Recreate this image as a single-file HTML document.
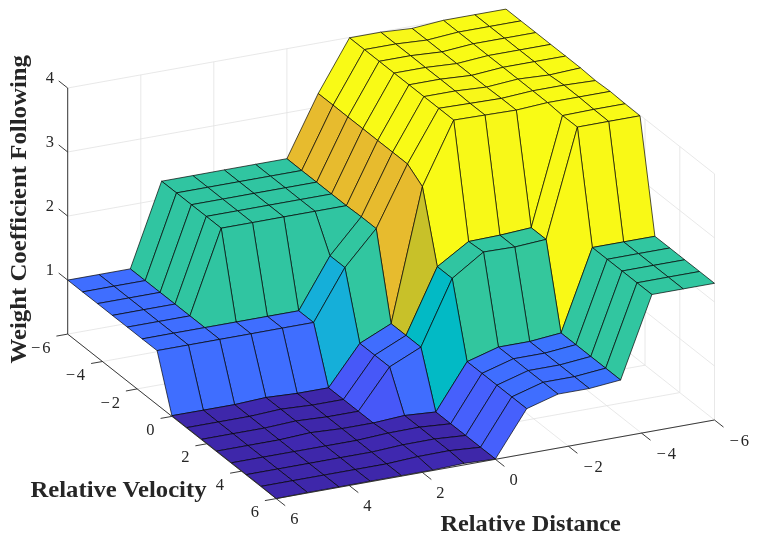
<!DOCTYPE html>
<html><head><meta charset="utf-8"><title>Surface</title>
<style>html,body{margin:0;padding:0;background:#fff}svg{display:block}</style></head>
<body>
<svg width="757" height="541" viewBox="0 0 757 541">
<rect width="757" height="541" fill="#fff"/>
<g stroke="#e2e2e2" stroke-width="0.8" fill="none">
<path d="M506.0,255.5 L714.5,420.0"/>
<path d="M506.0,255.5 L67.7,334.1"/>
<path d="M506.0,255.5 L506.0,9.4"/>
<path d="M506.0,255.5 L506.0,9.4"/>
<path d="M432.9,268.6 L641.5,433.1"/>
<path d="M540.8,282.9 L102.5,361.5"/>
<path d="M432.9,268.6 L432.9,22.5"/>
<path d="M540.8,282.9 L540.8,36.8"/>
<path d="M359.9,281.7 L568.4,446.2"/>
<path d="M575.5,310.3 L137.2,388.9"/>
<path d="M359.9,281.7 L359.9,35.6"/>
<path d="M575.5,310.3 L575.5,64.2"/>
<path d="M286.9,294.8 L495.4,459.3"/>
<path d="M610.2,337.8 L171.9,416.4"/>
<path d="M286.9,294.8 L286.9,48.7"/>
<path d="M610.2,337.8 L610.2,91.7"/>
<path d="M213.8,307.9 L422.3,472.4"/>
<path d="M645.0,365.2 L206.7,443.8"/>
<path d="M213.8,307.9 L213.8,61.8"/>
<path d="M645.0,365.2 L645.0,119.1"/>
<path d="M140.8,321.0 L349.2,485.5"/>
<path d="M679.8,392.6 L241.4,471.2"/>
<path d="M140.8,321.0 L140.8,74.9"/>
<path d="M679.8,392.6 L679.8,146.5"/>
<path d="M67.7,334.1 L276.2,498.6"/>
<path d="M714.5,420.0 L276.2,498.6"/>
<path d="M67.7,334.1 L67.7,88.0"/>
<path d="M714.5,420.0 L714.5,173.9"/>
<path d="M67.7,280.1 L506.0,201.5"/>
<path d="M506.0,201.5 L714.5,366.0"/>
<path d="M67.7,216.1 L506.0,137.5"/>
<path d="M506.0,137.5 L714.5,302.0"/>
<path d="M67.7,152.0 L506.0,73.4"/>
<path d="M506.0,73.4 L714.5,237.9"/>
<path d="M67.7,88.0 L506.0,9.4"/>
<path d="M506.0,9.4 L714.5,173.9"/>
</g>
<g stroke="#000" stroke-width="0.68" stroke-linejoin="round">
<polygon points="474.7,14.7 506.0,9.1 520.9,20.9 489.6,26.5" fill="#f9fb15"/>
<polygon points="489.6,26.5 520.9,20.9 535.8,32.6 504.5,38.2" fill="#f9fb15"/>
<polygon points="504.5,38.2 535.8,32.6 550.7,44.4 519.4,50.0" fill="#f9fb15"/>
<polygon points="519.4,50.0 550.7,44.4 565.6,56.1 534.3,61.7" fill="#f9fb15"/>
<polygon points="534.3,61.7 565.6,56.1 580.5,67.9 549.2,75.0" fill="#f9fb15"/>
<polygon points="549.2,75.0 580.5,67.9 595.4,80.6 564.0,85.2" fill="#f9fb15"/>
<polygon points="564.0,85.2 595.4,80.6 610.2,91.4 578.9,97.0" fill="#f9f916"/>
<polygon points="578.9,97.0 610.2,91.4 625.1,103.8 593.8,109.4" fill="#f9fb15"/>
<polygon points="593.8,109.4 625.1,103.8 640.0,115.8 608.7,121.4" fill="#f9fa16"/>
<polygon points="608.7,121.4 640.0,115.8 654.9,236.3 623.6,241.9" fill="#f9f916"/>
<polygon points="623.6,241.9 654.9,236.3 669.8,248.0 638.5,253.6" fill="#31c6a0"/>
<polygon points="638.5,253.6 669.8,248.0 684.7,259.8 653.4,265.4" fill="#31c6a0"/>
<polygon points="653.4,265.4 684.7,259.8 699.6,271.5 668.3,277.1" fill="#31c6a0"/>
<polygon points="668.3,277.1 699.6,271.5 714.5,283.3 683.2,288.9" fill="#31c6a0"/>
<polygon points="443.4,20.3 474.7,14.7 489.6,26.5 458.3,32.1" fill="#f9fb15"/>
<polygon points="458.3,32.1 489.6,26.5 504.5,38.2 473.2,43.8" fill="#f9fb15"/>
<polygon points="473.2,43.8 504.5,38.2 519.4,50.0 488.1,55.6" fill="#f9fb15"/>
<polygon points="488.1,55.6 519.4,50.0 534.3,61.7 503.0,67.3" fill="#f9fb15"/>
<polygon points="503.0,67.3 534.3,61.7 549.2,75.0 517.9,79.1" fill="#f9fb15"/>
<polygon points="517.9,79.1 549.2,75.0 564.0,85.2 532.7,90.8" fill="#f8f917"/>
<polygon points="532.7,90.8 564.0,85.2 578.9,97.0 547.6,102.6" fill="#f9fb15"/>
<polygon points="547.6,102.6 578.9,97.0 593.8,109.4 562.5,115.6" fill="#f9fb15"/>
<polygon points="562.5,115.6 593.8,109.4 608.7,121.4 577.4,127.1" fill="#f9fa16"/>
<polygon points="577.4,127.1 608.7,121.4 623.6,241.9 592.3,247.5" fill="#f9f916"/>
<polygon points="592.3,247.5 623.6,241.9 638.5,253.6 607.2,259.3" fill="#31c6a0"/>
<polygon points="607.2,259.3 638.5,253.6 653.4,265.4 622.1,271.0" fill="#31c6a0"/>
<polygon points="622.1,271.0 653.4,265.4 668.3,277.1 637.0,282.8" fill="#31c6a0"/>
<polygon points="637.0,282.8 668.3,277.1 683.2,288.9 651.9,294.5" fill="#31c6a0"/>
<polygon points="412.1,28.4 443.4,20.3 458.3,32.1 427.0,40.1" fill="#f9fb15"/>
<polygon points="427.0,40.1 458.3,32.1 473.2,43.8 441.9,51.9" fill="#f9fb15"/>
<polygon points="441.9,51.9 473.2,43.8 488.1,55.6 456.8,63.6" fill="#f9fb15"/>
<polygon points="456.8,63.6 488.1,55.6 503.0,67.3 471.6,75.4" fill="#f9fb15"/>
<polygon points="471.6,75.4 503.0,67.3 517.9,79.1 486.5,87.1" fill="#f9fb15"/>
<polygon points="486.5,87.1 517.9,79.1 532.7,90.8 501.4,98.4" fill="#f9fb15"/>
<polygon points="501.4,98.4 532.7,90.8 547.6,102.6 516.3,110.1" fill="#f9fb15"/>
<polygon points="516.3,110.1 547.6,102.6 562.5,115.6 531.2,227.7" fill="#f9fb15"/>
<polygon points="531.2,227.7 562.5,115.6 577.4,127.1 546.1,239.4" fill="#f8f917"/>
<polygon points="546.1,239.4 577.4,127.1 592.3,247.5 561.0,333.0" fill="#f9f916"/>
<polygon points="561.0,333.0 592.3,247.5 607.2,259.3 575.9,344.7" fill="#31c6a0"/>
<polygon points="575.9,344.7 607.2,259.3 622.1,271.0 590.8,356.5" fill="#31c6a0"/>
<polygon points="590.8,356.5 622.1,271.0 637.0,282.8 605.7,368.2" fill="#31c6a0"/>
<polygon points="605.7,368.2 637.0,282.8 651.9,294.5 620.6,380.0" fill="#31c6a0"/>
<polygon points="380.8,32.2 412.1,28.4 427.0,40.1 395.7,44.0" fill="#f8f719"/>
<polygon points="395.7,44.0 427.0,40.1 441.9,51.9 410.6,55.7" fill="#f8f719"/>
<polygon points="410.6,55.7 441.9,51.9 456.8,63.6 425.4,67.5" fill="#f8f719"/>
<polygon points="425.4,67.5 456.8,63.6 471.6,75.4 440.3,79.2" fill="#f8f719"/>
<polygon points="440.3,79.2 471.6,75.4 486.5,87.1 455.2,91.0" fill="#f8f719"/>
<polygon points="455.2,91.0 486.5,87.1 501.4,98.4 470.1,103.4" fill="#f8f719"/>
<polygon points="470.1,103.4 501.4,98.4 516.3,110.1 485.0,115.1" fill="#f8f818"/>
<polygon points="485.0,115.1 516.3,110.1 531.2,227.7 499.9,235.2" fill="#f8f818"/>
<polygon points="499.9,235.2 531.2,227.7 546.1,239.4 514.8,247.0" fill="#34c79c"/>
<polygon points="514.8,247.0 546.1,239.4 561.0,333.0 529.7,341.5" fill="#34c79c"/>
<polygon points="529.7,341.5 561.0,333.0 575.9,344.7 544.6,353.2" fill="#3b73fe"/>
<polygon points="544.6,353.2 575.9,344.7 590.8,356.5 559.5,365.0" fill="#3b73fe"/>
<polygon points="559.5,365.0 590.8,356.5 605.7,368.2 574.4,376.7" fill="#3b73fe"/>
<polygon points="574.4,376.7 605.7,368.2 620.6,380.0 589.3,388.5" fill="#3b73fe"/>
<polygon points="349.5,37.8 380.8,32.2 395.7,44.0 364.4,49.6" fill="#f9fa16"/>
<polygon points="364.4,49.6 395.7,44.0 410.6,55.7 379.2,61.3" fill="#f9fa16"/>
<polygon points="379.2,61.3 410.6,55.7 425.4,67.5 394.1,73.1" fill="#f9fa16"/>
<polygon points="394.1,73.1 425.4,67.5 440.3,79.2 409.0,84.8" fill="#f9fa16"/>
<polygon points="409.0,84.8 440.3,79.2 455.2,91.0 423.9,96.6" fill="#f9fa16"/>
<polygon points="423.9,96.6 455.2,91.0 470.1,103.4 438.8,108.3" fill="#f9fa16"/>
<polygon points="438.8,108.3 470.1,103.4 485.0,115.1 453.7,120.1" fill="#f8f917"/>
<polygon points="453.7,120.1 485.0,115.1 499.9,235.2 468.6,241.5" fill="#f8f917"/>
<polygon points="468.6,241.5 499.9,235.2 514.8,247.0 483.5,252.0" fill="#31c6a0"/>
<polygon points="483.5,252.0 514.8,247.0 529.7,341.5 498.4,347.1" fill="#31c6a0"/>
<polygon points="498.4,347.1 529.7,341.5 544.6,353.2 513.3,358.8" fill="#3f6eff"/>
<polygon points="513.3,358.8 544.6,353.2 559.5,365.0 528.2,370.6" fill="#3f6eff"/>
<polygon points="528.2,370.6 559.5,365.0 574.4,376.7 543.1,382.3" fill="#3f6eff"/>
<polygon points="543.1,382.3 574.4,376.7 589.3,388.5 558.0,394.1" fill="#3f6eff"/>
<polygon points="318.2,93.5 349.5,37.8 364.4,49.6 333.1,105.2" fill="#f9fa16"/>
<polygon points="333.1,105.2 364.4,49.6 379.2,61.3 347.9,117.0" fill="#f9fa16"/>
<polygon points="347.9,117.0 379.2,61.3 394.1,73.1 362.8,128.7" fill="#f9fa16"/>
<polygon points="362.8,128.7 394.1,73.1 409.0,84.8 377.7,140.5" fill="#f9fa16"/>
<polygon points="377.7,140.5 409.0,84.8 423.9,96.6 392.6,152.2" fill="#f9fa16"/>
<polygon points="392.6,152.2 423.9,96.6 438.8,108.3 407.5,164.0" fill="#f9fa16"/>
<polygon points="407.5,164.0 438.8,108.3 453.7,120.1 422.4,186.6" fill="#f9fa16"/>
<polygon points="422.4,186.6 453.7,120.1 468.6,241.5 437.3,266.7" fill="#f9fa16"/>
<polygon points="437.3,266.7 468.6,241.5 483.5,252.0 452.2,278.4" fill="#30c5a1"/>
<polygon points="452.2,278.4 483.5,252.0 498.4,347.1 467.1,361.7" fill="#32c69e"/>
<polygon points="467.1,361.7 498.4,347.1 513.3,358.8 482.0,373.4" fill="#3f6eff"/>
<polygon points="482.0,373.4 513.3,358.8 528.2,370.6 496.9,385.2" fill="#3f6eff"/>
<polygon points="496.9,385.2 528.2,370.6 543.1,382.3 511.8,396.9" fill="#3f6eff"/>
<polygon points="511.8,396.9 543.1,382.3 558.0,394.1 526.7,408.7" fill="#3f6eff"/>
<polygon points="286.9,158.7 318.2,93.5 333.1,105.2 301.7,170.5" fill="#e7bb2e"/>
<polygon points="301.7,170.5 333.1,105.2 347.9,117.0 316.6,182.2" fill="#e7bb2e"/>
<polygon points="316.6,182.2 347.9,117.0 362.8,128.7 331.5,194.0" fill="#e7bb2e"/>
<polygon points="331.5,194.0 362.8,128.7 377.7,140.5 346.4,205.7" fill="#e7bb2e"/>
<polygon points="346.4,205.7 377.7,140.5 392.6,152.2 361.3,216.8" fill="#e7bb2e"/>
<polygon points="361.3,216.8 392.6,152.2 407.5,164.0 376.2,228.6" fill="#e7bb2e"/>
<polygon points="376.2,228.6 407.5,164.0 422.4,186.6 391.1,323.7" fill="#e7bb2e"/>
<polygon points="391.1,323.7 422.4,186.6 437.3,266.7 406.0,335.4" fill="#c8c129"/>
<polygon points="406.0,335.4 437.3,266.7 452.2,278.4 420.9,347.2" fill="#02bac5"/>
<polygon points="420.9,347.2 452.2,278.4 467.1,361.7 435.8,412.0" fill="#02bac5"/>
<polygon points="435.8,412.0 467.1,361.7 482.0,373.4 450.7,423.8" fill="#4660fc"/>
<polygon points="450.7,423.8 482.0,373.4 496.9,385.2 465.6,435.5" fill="#4660fc"/>
<polygon points="465.6,435.5 496.9,385.2 511.8,396.9 480.5,447.3" fill="#4660fc"/>
<polygon points="480.5,447.3 511.8,396.9 526.7,408.7 495.4,459.0" fill="#4660fc"/>
<polygon points="255.5,164.3 286.9,158.7 301.7,170.5 270.4,176.1" fill="#30c5a1"/>
<polygon points="270.4,176.1 301.7,170.5 316.6,182.2 285.3,187.8" fill="#30c5a1"/>
<polygon points="285.3,187.8 316.6,182.2 331.5,194.0 300.2,199.6" fill="#30c5a1"/>
<polygon points="300.2,199.6 331.5,194.0 346.4,205.7 315.1,211.3" fill="#30c5a1"/>
<polygon points="315.1,211.3 346.4,205.7 361.3,216.8 330.0,255.8" fill="#30c5a1"/>
<polygon points="330.0,255.8 361.3,216.8 376.2,228.6 344.9,267.5" fill="#31c6a0"/>
<polygon points="344.9,267.5 376.2,228.6 391.1,323.7 359.8,343.4" fill="#31c6a0"/>
<polygon points="359.8,343.4 391.1,323.7 406.0,335.4 374.7,355.2" fill="#406dfe"/>
<polygon points="374.7,355.2 406.0,335.4 420.9,347.2 389.6,366.9" fill="#406dfe"/>
<polygon points="389.6,366.9 420.9,347.2 435.8,412.0 404.5,415.5" fill="#406dfe"/>
<polygon points="404.5,415.5 435.8,412.0 450.7,423.8 419.4,427.2" fill="#3e27a9"/>
<polygon points="419.4,427.2 450.7,423.8 465.6,435.5 434.3,439.0" fill="#3e27a9"/>
<polygon points="434.3,439.0 465.6,435.5 480.5,447.3 449.1,450.7" fill="#3e27a9"/>
<polygon points="449.1,450.7 480.5,447.3 495.4,459.0 464.0,463.4" fill="#3e27a9"/>
<polygon points="224.2,169.9 255.5,164.3 270.4,176.1 239.1,181.7" fill="#30c5a1"/>
<polygon points="239.1,181.7 270.4,176.1 285.3,187.8 254.0,193.4" fill="#30c5a1"/>
<polygon points="254.0,193.4 285.3,187.8 300.2,199.6 268.9,205.2" fill="#30c5a1"/>
<polygon points="268.9,205.2 300.2,199.6 315.1,211.3 283.8,216.9" fill="#30c5a1"/>
<polygon points="283.8,216.9 315.1,211.3 330.0,255.8 298.7,310.8" fill="#30c5a1"/>
<polygon points="298.7,310.8 330.0,255.8 344.9,267.5 313.6,322.5" fill="#15afd9"/>
<polygon points="313.6,322.5 344.9,267.5 359.8,343.4 328.5,387.8" fill="#15afd9"/>
<polygon points="328.5,387.8 359.8,343.4 374.7,355.2 343.4,399.5" fill="#4758f8"/>
<polygon points="343.4,399.5 374.7,355.2 389.6,366.9 358.3,411.3" fill="#4758f8"/>
<polygon points="358.3,411.3 389.6,366.9 404.5,415.5 373.2,423.0" fill="#4758f8"/>
<polygon points="373.2,423.0 404.5,415.5 419.4,427.2 388.1,433.1" fill="#3f29b0"/>
<polygon points="388.1,433.1 419.4,427.2 434.3,439.0 402.9,444.8" fill="#3f29b0"/>
<polygon points="402.9,444.8 434.3,439.0 449.1,450.7 417.8,456.6" fill="#3f29b0"/>
<polygon points="417.8,456.6 449.1,450.7 464.0,463.4 432.7,470.0" fill="#3f29b0"/>
<polygon points="192.9,175.6 224.2,169.9 239.1,181.7 207.8,187.3" fill="#30c5a1"/>
<polygon points="207.8,187.3 239.1,181.7 254.0,193.4 222.7,199.1" fill="#30c5a1"/>
<polygon points="222.7,199.1 254.0,193.4 268.9,205.2 237.6,210.8" fill="#30c5a1"/>
<polygon points="237.6,210.8 268.9,205.2 283.8,216.9 252.5,222.6" fill="#30c5a1"/>
<polygon points="252.5,222.6 283.8,216.9 298.7,310.8 267.4,316.4" fill="#30c5a1"/>
<polygon points="267.4,316.4 298.7,310.8 313.6,322.5 282.3,328.1" fill="#3f6eff"/>
<polygon points="282.3,328.1 313.6,322.5 328.5,387.8 297.2,393.4" fill="#3f6eff"/>
<polygon points="297.2,393.4 328.5,387.8 343.4,399.5 312.1,405.1" fill="#3e27aa"/>
<polygon points="312.1,405.1 343.4,399.5 358.3,411.3 327.0,416.9" fill="#3e27aa"/>
<polygon points="327.0,416.9 358.3,411.3 373.2,423.0 341.9,428.6" fill="#3e27aa"/>
<polygon points="341.9,428.6 373.2,423.0 388.1,433.1 356.8,440.4" fill="#3e27aa"/>
<polygon points="356.8,440.4 388.1,433.1 402.9,444.8 371.6,452.1" fill="#3f28af"/>
<polygon points="371.6,452.1 402.9,444.8 417.8,456.6 386.5,463.9" fill="#3f28af"/>
<polygon points="386.5,463.9 417.8,456.6 432.7,470.0 401.4,475.6" fill="#3f28af"/>
<polygon points="161.6,181.2 192.9,175.6 207.8,187.3 176.5,192.9" fill="#30c5a1"/>
<polygon points="176.5,192.9 207.8,187.3 222.7,199.1 191.4,204.7" fill="#30c5a1"/>
<polygon points="191.4,204.7 222.7,199.1 237.6,210.8 206.3,216.4" fill="#30c5a1"/>
<polygon points="206.3,216.4 237.6,210.8 252.5,222.6 221.2,228.2" fill="#30c5a1"/>
<polygon points="221.2,228.2 252.5,222.6 267.4,316.4 236.1,322.0" fill="#30c5a1"/>
<polygon points="236.1,322.0 267.4,316.4 282.3,328.1 251.0,333.8" fill="#3f6eff"/>
<polygon points="251.0,333.8 282.3,328.1 297.2,393.4 265.9,397.5" fill="#3f6eff"/>
<polygon points="265.9,397.5 297.2,393.4 312.1,405.1 280.8,409.2" fill="#3e27aa"/>
<polygon points="280.8,409.2 312.1,405.1 327.0,416.9 295.7,421.0" fill="#3e27aa"/>
<polygon points="295.7,421.0 327.0,416.9 341.9,428.6 310.5,432.7" fill="#3e27aa"/>
<polygon points="310.5,432.7 341.9,428.6 356.8,440.4 325.4,446.0" fill="#3e27aa"/>
<polygon points="325.4,446.0 356.8,440.4 371.6,452.1 340.3,457.7" fill="#3e27aa"/>
<polygon points="340.3,457.7 371.6,452.1 386.5,463.9 355.2,469.5" fill="#3e27aa"/>
<polygon points="355.2,469.5 386.5,463.9 401.4,475.6 370.1,481.2" fill="#3e27aa"/>
<polygon points="130.3,268.9 161.6,181.2 176.5,192.9 145.2,280.6" fill="#30c5a1"/>
<polygon points="145.2,280.6 176.5,192.9 191.4,204.7 160.1,292.4" fill="#30c5a1"/>
<polygon points="160.1,292.4 191.4,204.7 206.3,216.4 175.0,304.1" fill="#30c5a1"/>
<polygon points="175.0,304.1 206.3,216.4 221.2,228.2 189.9,315.9" fill="#30c5a1"/>
<polygon points="189.9,315.9 221.2,228.2 236.1,322.0 204.8,327.6" fill="#30c5a1"/>
<polygon points="204.8,327.6 236.1,322.0 251.0,333.8 219.7,339.4" fill="#3f6eff"/>
<polygon points="219.7,339.4 251.0,333.8 265.9,397.5 234.6,404.6" fill="#3f6eff"/>
<polygon points="234.6,404.6 265.9,397.5 280.8,409.2 249.5,416.4" fill="#3f28af"/>
<polygon points="249.5,416.4 280.8,409.2 295.7,421.0 264.4,428.1" fill="#3f28af"/>
<polygon points="264.4,428.1 295.7,421.0 310.5,432.7 279.2,439.9" fill="#3f28af"/>
<polygon points="279.2,439.9 310.5,432.7 325.4,446.0 294.1,451.6" fill="#3f28af"/>
<polygon points="294.1,451.6 325.4,446.0 340.3,457.7 309.0,463.4" fill="#3e27aa"/>
<polygon points="309.0,463.4 340.3,457.7 355.2,469.5 323.9,475.1" fill="#3e27aa"/>
<polygon points="323.9,475.1 355.2,469.5 370.1,481.2 338.8,486.9" fill="#3e27aa"/>
<polygon points="99.0,274.5 130.3,268.9 145.2,280.6 113.9,286.2" fill="#3f6eff"/>
<polygon points="113.9,286.2 145.2,280.6 160.1,292.4 128.8,298.0" fill="#3f6eff"/>
<polygon points="128.8,298.0 160.1,292.4 175.0,304.1 143.7,309.7" fill="#3f6eff"/>
<polygon points="143.7,309.7 175.0,304.1 189.9,315.9 158.6,321.5" fill="#3f6eff"/>
<polygon points="158.6,321.5 189.9,315.9 204.8,327.6 173.5,333.2" fill="#3f6eff"/>
<polygon points="173.5,333.2 204.8,327.6 219.7,339.4 188.4,345.0" fill="#3f6eff"/>
<polygon points="188.4,345.0 219.7,339.4 234.6,404.6 203.3,410.2" fill="#3f6eff"/>
<polygon points="203.3,410.2 234.6,404.6 249.5,416.4 218.2,422.0" fill="#3e27aa"/>
<polygon points="218.2,422.0 249.5,416.4 264.4,428.1 233.0,433.7" fill="#3e27aa"/>
<polygon points="233.0,433.7 264.4,428.1 279.2,439.9 247.9,445.5" fill="#3e27aa"/>
<polygon points="247.9,445.5 279.2,439.9 294.1,451.6 262.8,457.2" fill="#3e27aa"/>
<polygon points="262.8,457.2 294.1,451.6 309.0,463.4 277.7,469.0" fill="#3e27aa"/>
<polygon points="277.7,469.0 309.0,463.4 323.9,475.1 292.6,480.7" fill="#3e27aa"/>
<polygon points="292.6,480.7 323.9,475.1 338.8,486.9 307.5,492.5" fill="#3e27aa"/>
<polygon points="67.7,280.1 99.0,274.5 113.9,286.2 82.6,291.9" fill="#3f6eff"/>
<polygon points="82.6,291.9 113.9,286.2 128.8,298.0 97.5,303.6" fill="#3f6eff"/>
<polygon points="97.5,303.6 128.8,298.0 143.7,309.7 112.4,315.4" fill="#3f6eff"/>
<polygon points="112.4,315.4 143.7,309.7 158.6,321.5 127.3,327.1" fill="#3f6eff"/>
<polygon points="127.3,327.1 158.6,321.5 173.5,333.2 142.2,338.9" fill="#3f6eff"/>
<polygon points="142.2,338.9 173.5,333.2 188.4,345.0 157.1,350.6" fill="#3f6eff"/>
<polygon points="157.1,350.6 188.4,345.0 203.3,410.2 171.9,415.7" fill="#3f6eff"/>
<polygon points="171.9,415.7 203.3,410.2 218.2,422.0 186.8,427.6" fill="#3e27aa"/>
<polygon points="186.8,427.6 218.2,422.0 233.0,433.7 201.7,439.3" fill="#3e27aa"/>
<polygon points="201.7,439.3 233.0,433.7 247.9,445.5 216.6,451.1" fill="#3e27aa"/>
<polygon points="216.6,451.1 247.9,445.5 262.8,457.2 231.5,462.8" fill="#3e27aa"/>
<polygon points="231.5,462.8 262.8,457.2 277.7,469.0 246.4,474.6" fill="#3e27aa"/>
<polygon points="246.4,474.6 277.7,469.0 292.6,480.7 261.3,486.3" fill="#3e27aa"/>
<polygon points="261.3,486.3 292.6,480.7 307.5,492.5 276.2,498.6" fill="#3e27aa"/>
</g>
<g stroke="#262626" stroke-width="0.9" fill="none" stroke-linecap="butt">
<path d="M67.7,88.0 L67.7,334.1"/>
<path d="M67.7,334.1 L276.2,498.6"/>
<path d="M276.2,498.6 L714.5,420.0"/>
<path d="M67.7,280.1 L58.7,273.0"/>
<path d="M67.7,216.1 L58.7,208.9"/>
<path d="M67.7,152.0 L58.7,144.9"/>
<path d="M67.7,88.0 L58.7,80.9"/>
<path d="M67.7,334.1 L56.4,336.1"/>
<path d="M714.5,420.0 L723.5,427.1"/>
<path d="M102.5,361.5 L91.1,363.5"/>
<path d="M641.5,433.1 L650.5,440.2"/>
<path d="M137.2,388.9 L125.9,391.0"/>
<path d="M568.4,446.2 L577.4,453.3"/>
<path d="M171.9,416.4 L160.6,418.4"/>
<path d="M495.4,459.3 L504.4,466.4"/>
<path d="M206.7,443.8 L195.4,445.8"/>
<path d="M422.3,472.4 L431.3,479.5"/>
<path d="M241.4,471.2 L230.1,473.2"/>
<path d="M349.2,485.5 L358.3,492.6"/>
<path d="M276.2,498.6 L264.9,500.6"/>
<path d="M276.2,498.6 L285.2,505.7"/>
</g>
<g font-family="'Liberation Serif', serif" font-size="16.5" fill="#262626">
<text x="53.9" y="275.0" text-anchor="end">1</text>
<text x="53.9" y="210.9" text-anchor="end">2</text>
<text x="53.9" y="146.9" text-anchor="end">3</text>
<text x="53.9" y="82.9" text-anchor="end">4</text>
<text x="50.4" y="352.6" text-anchor="end" textLength="19.4" lengthAdjust="spacing">−6</text>
<text x="729.5" y="445.7" text-anchor="start" textLength="19.4" lengthAdjust="spacing">−6</text>
<text x="85.1" y="380.0" text-anchor="end" textLength="19.4" lengthAdjust="spacing">−4</text>
<text x="656.5" y="458.8" text-anchor="start" textLength="19.4" lengthAdjust="spacing">−4</text>
<text x="119.9" y="407.5" text-anchor="end" textLength="19.4" lengthAdjust="spacing">−2</text>
<text x="583.4" y="471.9" text-anchor="start" textLength="19.4" lengthAdjust="spacing">−2</text>
<text x="154.6" y="434.9" text-anchor="end">0</text>
<text x="509.4" y="485.0" text-anchor="start">0</text>
<text x="189.4" y="462.3" text-anchor="end">2</text>
<text x="436.3" y="498.1" text-anchor="start">2</text>
<text x="224.1" y="489.7" text-anchor="end">4</text>
<text x="363.3" y="511.2" text-anchor="start">4</text>
<text x="258.9" y="517.1" text-anchor="end">6</text>
<text x="290.2" y="524.3" text-anchor="start">6</text>
</g>
<g font-family="'Liberation Serif', serif" font-weight="bold" font-size="23" fill="#262626">
<text x="30.5" y="496.6" textLength="176" lengthAdjust="spacingAndGlyphs">Relative Velocity</text>
<text x="440.5" y="531" textLength="180.3" lengthAdjust="spacingAndGlyphs">Relative Distance</text>
<text transform="translate(25.9,363.5) rotate(-90)" textLength="308.5" lengthAdjust="spacingAndGlyphs">Weight Coefficient Following</text>
</g>
</svg>
</body></html>
